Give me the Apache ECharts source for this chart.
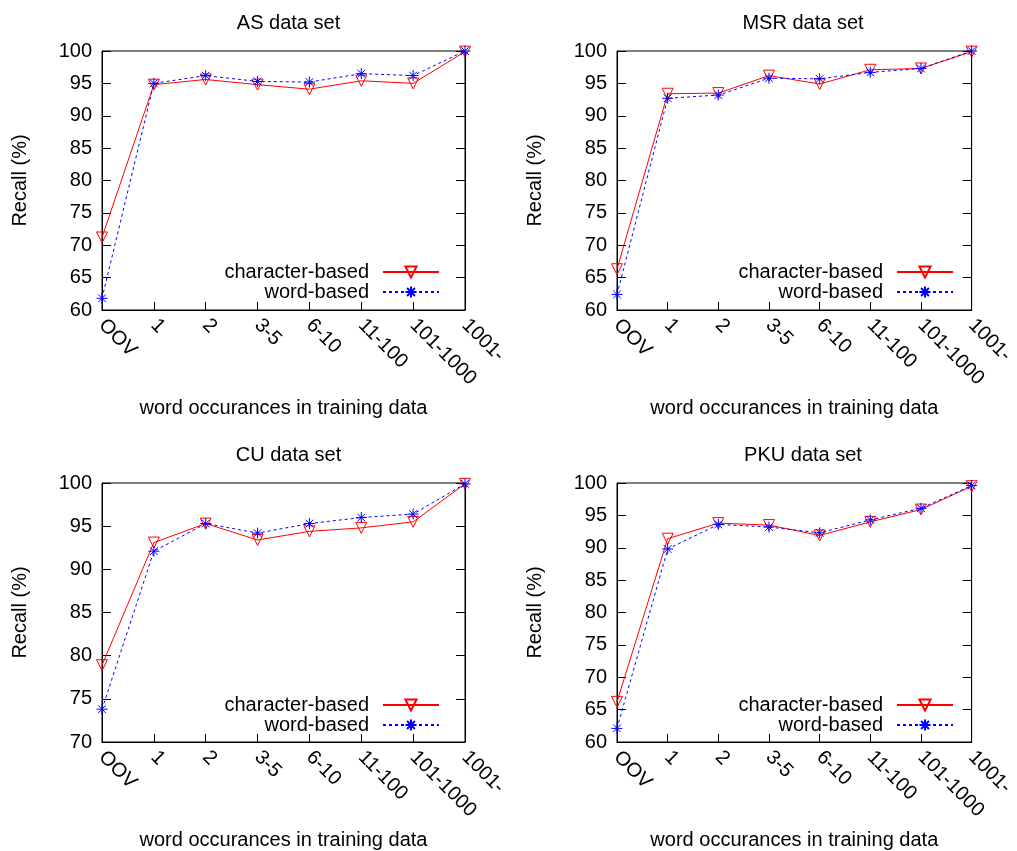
<!DOCTYPE html>
<html>
<head>
<meta charset="utf-8">
<title>Recall by word occurrences</title>
<script src="https://cdn.jsdelivr.net/npm/echarts@6/dist/echarts.min.js"></script>
<style>
  html, body { margin: 0; padding: 0; background: #fff; }
  #chart { width: 1017px; height: 851px; }
</style>
</head>
<body>
<div id="chart"></div>
<script>
const categories = ['OOV', '1', '2', '3-5', '6-10', '11-100', '101-1000', '1001-']

const asChar = [71.2, 94.8, 95.6, 94.8, 94.1, 95.4, 95.0, 99.9]
const asWord = [61.8, 95.0, 96.2, 95.3, 95.2, 96.5, 96.2, 100.0]
const msrChar = [66.3, 93.4, 93.5, 96.2, 94.9, 97.1, 97.3, 99.9]
const msrWord = [62.4, 92.7, 93.2, 95.8, 95.7, 96.7, 97.3, 100.0]
const cuChar = [78.9, 93.1, 95.3, 93.4, 94.4, 94.8, 95.5, 99.9]
const cuWord = [73.8, 92.1, 95.3, 94.2, 95.3, 96.0, 96.4, 99.9]
const pkuChar = [66.2, 91.4, 93.8, 93.5, 91.9, 94.0, 95.9, 99.5]
const pkuWord = [62.1, 89.8, 93.6, 93.2, 92.3, 94.3, 96.1, 99.6]

const titles = ['AS data set', 'MSR data set', 'CU data set', 'PKU data set']
const charSets = [asChar, msrChar, cuChar, pkuChar]
const wordSets = [asWord, msrWord, cuWord, pkuWord]
const yMins = [60, 60, 70, 60]
const yMax = 100
const yStep = 5

const seriesNames = ['character-based', 'word-based']
const xName = 'word occurances in training data'
const yName = 'Recall (%)'

// plot boxes, px
const boxes = [
  { left: 102, top: 51, width: 363, height: 259 },
  { left: 617, top: 51, width: 362, height: 259 },
  { left: 102, top: 483, width: 363, height: 260 },
  { left: 617, top: 483, width: 362, height: 260 }
]

const FONT = '"Liberation Sans", Arial, Helvetica, sans-serif'
const FS = 20
const RED = '#ff0000'
const BLUE = '#0000ff'
const asterisk = 'path://M5,0L5,10M0,5L10,5M1.5,1.5L8.5,8.5M1.5,8.5L8.5,1.5'

const chart = echarts.init(document.getElementById('chart'), null, { renderer: 'canvas' })

const grid = boxes.map(b => ({
  left: b.left, top: b.top, width: b.width, height: b.height,
  show: true, borderColor: '#000', borderWidth: 1, backgroundColor: 'transparent',
  containLabel: false
}))

const title = boxes.map((b, i) => ({
  text: titles[i],
  left: b.left + b.width / 2,
  top: b.top - 43,
  textAlign: 'center',
  textStyle: { fontFamily: FONT, fontSize: FS, fontWeight: 'normal', color: '#000' }
}))

const xAxis = boxes.map((b, i) => ({
  type: 'category',
  gridIndex: i,
  data: categories,
  boundaryGap: false,
  name: xName,
  nameLocation: 'middle',
  nameGap: 88,
  nameTextStyle: { fontFamily: FONT, fontSize: FS, color: '#000' },
  axisLine: { lineStyle: { color: '#000', width: 1 } },
  axisTick: { inside: true, length: 8, lineStyle: { color: '#000' } },
  axisLabel: { rotate: -45, margin: 12, interval: 0, fontFamily: FONT, fontSize: FS, color: '#000' },
  splitLine: { show: false }
}))

const yAxis = []
boxes.forEach((b, i) => {
  const base = {
    type: 'value',
    gridIndex: i,
    min: yMins[i],
    max: yMax,
    interval: yStep,
    axisLine: { show: true, lineStyle: { color: '#000', width: 1 } },
    axisTick: { show: true, inside: true, length: 9, lineStyle: { color: '#000' } },
    splitLine: { show: false }
  }
  yAxis.push(Object.assign({}, base, {
    position: 'left',
    name: yName,
    nameLocation: 'middle',
    nameRotate: 90,
    nameGap: 72,
    nameTextStyle: { fontFamily: FONT, fontSize: FS, color: '#000' },
    axisLabel: { margin: 10, fontFamily: FONT, fontSize: FS, color: '#000' }
  }))
  yAxis.push(Object.assign({}, base, {
    position: 'right',
    axisLabel: { show: false }
  }))
})

const series = []
boxes.forEach((b, i) => {
  series.push({
    name: seriesNames[0],
    type: 'line',
    xAxisIndex: i,
    yAxisIndex: i * 2,
    data: charSets[i],
    symbol: 'triangle',
    symbolRotate: 180,
    symbolSize: 11,
    lineStyle: { color: RED, width: 1 },
    itemStyle: { color: 'none', borderColor: RED, borderWidth: 1 },
    emphasis: { disabled: true },
    z: 3
  })
  series.push({
    name: seriesNames[1],
    type: 'line',
    xAxisIndex: i,
    yAxisIndex: i * 2,
    data: wordSets[i],
    symbol: asterisk,
    symbolSize: 11,
    lineStyle: { color: BLUE, width: 1, type: [3, 3] },
    itemStyle: { color: 'none', borderColor: BLUE, borderWidth: 1 },
    emphasis: { disabled: true },
    z: 4
  })
})

// gnuplot-style key: text right-aligned, sample on the right
const legend = []
boxes.forEach(b => {
  const iconEnd = b.left + b.width - 25
  const bottom = b.top + b.height
  seriesNames.forEach((name, k) => {
    legend.push({
      data: [name],
      orient: 'vertical',
      align: 'right',
      padding: 0,
      right: 1017 - iconEnd,
      top: bottom - 48 + k * 20,
      itemWidth: 56,
      itemHeight: 14,
      itemGap: 0,
      selectedMode: false,
      textStyle: { fontFamily: FONT, fontSize: FS, color: '#000', padding: [0, 9, 0, 0] }
    })
  })
})

chart.setOption({
  backgroundColor: '#fff',
  animation: false,
  title,
  grid,
  xAxis,
  yAxis,
  legend,
  series
})
</script>
</body>
</html>
